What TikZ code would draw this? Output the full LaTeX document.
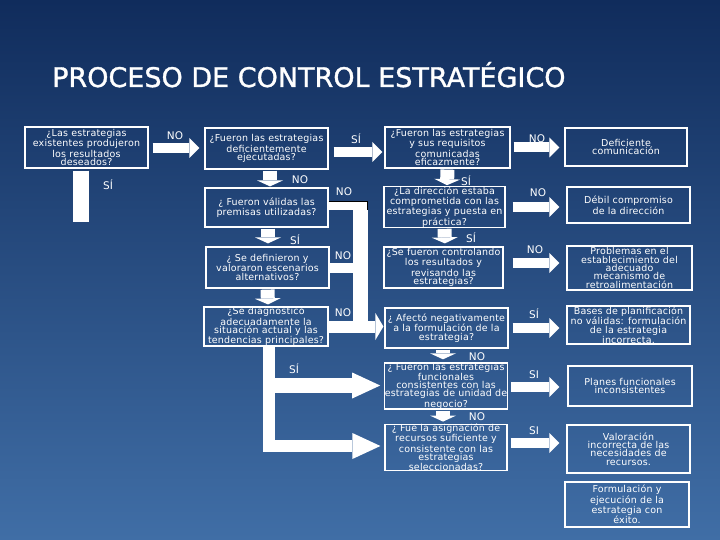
\documentclass[tikz,border=0pt]{standalone}
\usepackage{fontspec}
\setmainfont{DejaVu Sans}
\newfontfamily\boxfont[LetterSpace=2]{DejaVu Sans}
\newfontfamily\titlefont[FakeBold=1.2]{DejaVu Sans}
\usetikzlibrary{arrows.meta}
\definecolor{bgtop}{RGB}{16,44,92}
\definecolor{bgbot}{RGB}{64,110,166}
\tikzset{
  qbox/.style={draw=white, line width=1.2pt, inner sep=0pt, align=center,
    text=white, font=\boxfont\fontsize{9.5}{8.3}\selectfont},
  lbl/.style={text=white, inner sep=0pt, font=\fontsize{10.5}{10.5}\selectfont},
  harrow/.style={white, line width=10pt,
    -{Triangle[length=10pt,width=20pt,line width=0pt]}},
  varrow/.style={white, line width=14pt,
    -{Triangle[length=6pt,width=26pt,line width=0pt]}},
  bigarrow/.style={white, line width=#1,
    -{Triangle[length=28pt,width=26pt,line width=0pt]}},
  bar/.style={white, line width=#1}
}
\begin{document}
\begin{tikzpicture}[x=1pt,y=-1pt]
\useasboundingbox (0,0) rectangle (720,540);
\shade[top color=bgtop, bottom color=bgbot] (0,0) rectangle (720,540);

\node[anchor=base west, inner sep=0pt, text=white, font=\titlefont\fontsize{27}{27}\selectfont] (title) at (52,87) {PROCESO DE CONTROL ESTRATÉGICO};

% question boxes
\node[qbox, minimum width=123pt, minimum height=41pt] (A) at (86.5,147.5) {¿Las estrategias\\existentes produjeron\\los resultados\\deseados?};
\node[qbox, minimum width=123pt, minimum height=41pt] (B) at (266.5,148.5) {¿Fueron las estrategias\\deficientemente\\ejecutadas?};
\node[qbox, minimum width=123pt, minimum height=39pt] (C) at (266.5,207.5) {¿ Fueron válidas las\\premisas utilizadas?};
\node[qbox, minimum width=123pt, minimum height=41pt] (D) at (267.5,267.5) {¿ Se definieron y\\valoraron escenarios\\alternativos?};
\node[qbox, minimum width=124pt, minimum height=39pt] (E) at (266,326.5) {¿Se diagnosticó\\adecuadamente la\\situación actual y las\\tendencias principales?};
\node[qbox, minimum width=125pt, minimum height=41pt] (F) at (447.5,147.5) {¿Fueron las estrategias\\y sus requisitos\\comunicadas\\eficazmente?};
\node[qbox, minimum width=121pt, minimum height=38pt] (G) at (444.5,207) {¿La dirección estaba\\comprometida con las\\estrategias y puesta en\\práctica?};
\node[qbox, minimum width=119pt, minimum height=41pt] (H) at (443.5,267.5) {¿Se fueron controlando\\los resultados y\\revisando las\\estrategias?};
\node[qbox, minimum width=123pt, minimum height=40pt] (I) at (446.5,328) {¿ Afectó negativamente\\a la formulación de la\\estrategia?};
\node[qbox, minimum width=122pt, minimum height=44pt] (J) at (446,386) {¿ Fueron las estrategias\\funcionales\\consistentes con las\\estrategias de unidad de\\negocio?};
\node[qbox, minimum width=122pt, minimum height=45pt] (K) at (446,447.5) {¿ Fue la asignación de\\recursos suficiente y\\consistente con las\\estrategias\\seleccionadas?};

% result boxes
\node[qbox, minimum width=122pt, minimum height=38pt] (R1) at (626,147) {Deficiente\\comunicación};
\node[qbox, minimum width=123pt, minimum height=36pt] (R2) at (628.5,205) {Débil compromiso\\de la dirección};
\node[qbox, minimum width=125pt, minimum height=44pt] (R3) at (629.5,268) {Problemas en el\\establecimiento del\\adecuado\\mecanismo de\\retroalimentación};
\node[qbox, minimum width=123pt, minimum height=38pt] (R4) at (628.5,325) {Bases de planificación\\no válidas: formulación\\de la estrategia\\incorrecta.};
\node[qbox, minimum width=124pt, minimum height=40pt] (R5) at (630,386) {Planes funcionales\\inconsistentes};
\node[qbox, minimum width=123pt, minimum height=48pt] (R6) at (628.5,449) {Valoración\\incorrecta de las\\necesidades de\\recursos.};
\node[qbox, minimum width=124pt, minimum height=45pt] (R7) at (627,504.5) {Formulación y\\ejecución de la\\estrategia con\\éxito.};

% horizontal arrows
\draw[harrow, shorten <=4pt, shorten >=5pt] ([yshift=-0.5pt]A.east) -- (B.west |- 0,148);
\draw[harrow, shorten <=5pt, shorten >=2pt] ([yshift=-3.5pt]B.east) -- ([yshift=-4.5pt]F.west);
\draw[harrow, shorten <=3pt, shorten >=5pt] (F.east) -- (R1.west |- F.east);
\draw[harrow, shorten <=7pt, shorten >=7pt] (G.east) -- (R2.west |- G.east);
\draw[harrow, shorten <=9pt, shorten >=7pt] ([yshift=4.5pt]H.east) -- ([yshift=4.5pt]R3.west |- H.east);
\draw[harrow, shorten <=4pt, shorten >=7pt] (I.east) -- (R4.west |- I.east);
\draw[harrow, shorten <=3pt, shorten >=8pt] ([yshift=-1pt]J.east) -- ([yshift=-1pt]R5.west |- J.east);
\draw[harrow, shorten <=3pt, shorten >=7pt] ([yshift=4.5pt]K.east) -- ([yshift=4.5pt]R6.west |- K.east);

% vertical arrows
\draw[varrow, shorten <=1pt, shorten >=1pt] ([xshift=3.5pt]B.south) -- ([xshift=3.5pt]C.north);
\draw[varrow, shorten <=1pt, shorten >=3pt] ([xshift=1.5pt]C.south) -- ([xshift=0.5pt]D.north);
\draw[varrow, shorten <=1pt, shorten >=2pt] (D.south) -- ([xshift=2pt]E.north);
\draw[varrow, shorten <=1pt, shorten >=1pt] (F.south) -- ([xshift=2.5pt]G.north);
\draw[varrow, shorten <=1pt, shorten >=3pt] (G.south) -- ([xshift=1.5pt]H.north);
\draw[varrow, shorten <=1pt, shorten >=3pt] ([xshift=-3.5pt]I.south) -- ([xshift=-3pt]J.north);
\draw[varrow, shorten <=1pt, shorten >=2pt] ([xshift=-3pt]J.south) -- ([xshift=-3pt]K.north);

% A: SI bar downwards
\coordinate (aEnd) at (81,222);
\draw[bar=16pt, shorten <=2pt] ([xshift=-5.5pt]A.south) -- (aEnd);

% C / D / E NO branch to I
\coordinate (jTop) at (360.5,201);
\coordinate (jBot) at (360.5,332);
\draw[bar=9pt] ([yshift=2pt]C.east) -- ([yshift=2pt]C.east -| 368,0);
\draw[bar=15pt] (jTop) -- (jBot);
\draw[bar=10pt] (D.east) -- (D.east -| jTop);
\draw[white, line width=12pt, -{Triangle[length=8pt,width=27pt,line width=0pt]}, shorten >=1pt] (E.east) -- (I.west |- E.east);
\draw[black, line width=0.8pt] (328.5,201) -- (367.5,201) -- (367.5,210);

% E: SI bar to J and K
\coordinate (eTop) at (269,346);
\coordinate (eBot) at (269,452);
\draw[bar=12pt] (eTop) -- (eBot);
\draw[bigarrow=15pt, shorten >=4pt] (263,385.5) -- (J.west |- 0,385.5);
\draw[bigarrow=12pt, shorten >=4pt] (263,446) -- (K.west |- 0,446);

% labels
\node[lbl] (l1) at (175,136) {NO};
\node[lbl] (l2) at (108,185) {SÍ};
\node[lbl] (l3) at (356,139) {SÍ};
\node[lbl] (l4) at (300,180) {NO};
\node[lbl] (l5) at (344,192) {NO};
\node[lbl] (l6) at (295,240) {SÍ};
\node[lbl] (l7) at (343,256) {NO};
\node[lbl] (l8) at (343,313) {NO};
\node[lbl] (l9) at (294,369) {SÍ};
\node[lbl] (l10) at (537,139) {NO};
\node[lbl] (l11) at (466,181) {SÍ};
\node[lbl] (l12) at (538,193) {NO};
\node[lbl] (l13) at (471,238) {SÍ};
\node[lbl] (l14) at (535,250) {NO};
\node[lbl] (l15) at (534,314) {SÍ};
\node[lbl] (l16) at (477,357) {NO};
\node[lbl] (l17) at (534,375) {SI};
\node[lbl] (l18) at (477,417) {NO};
\node[lbl] (l19) at (534,431) {SI};
\end{tikzpicture}
\end{document}
